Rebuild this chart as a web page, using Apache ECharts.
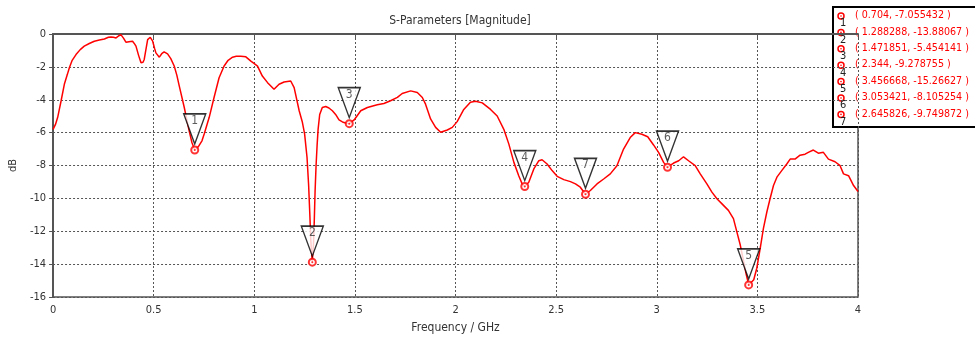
<!DOCTYPE html>
<html><head><meta charset="utf-8">
<script src="https://cdn.jsdelivr.net/npm/echarts@6/dist/echarts.min.js"></script>
<style>html,body{margin:0;padding:0;background:#fff}#c{width:975px;height:339px}</style>
</head><body><div id="c"></div>
<script>
const freq = [0.000,0.012,0.023,0.04,0.056,0.07,0.081,0.095,0.114,0.135,0.155,0.18,0.205,0.23,0.255,0.275,0.288,0.30,0.313,0.325,0.337,0.35,0.362,0.37,0.385,0.395,0.405,0.412,0.425,0.437,0.447,0.453,0.462,0.47,0.483,0.495,0.505,0.511,0.528,0.54,0.552,0.569,0.585,0.602,0.615,0.627,0.652,0.676,0.69,0.704,0.715,0.726,0.74,0.751,0.776,0.80,0.825,0.85,0.87,0.892,0.91,0.933,0.958,0.983,1.0,1.016,1.04,1.066,1.098,1.123,1.148,1.181,1.198,1.223,1.239,1.25,1.262,1.27,1.276,1.281,1.288,1.294,1.298,1.302,1.307,1.312,1.317,1.325,1.338,1.355,1.371,1.388,1.404,1.421,1.438,1.454,1.472,1.496,1.529,1.562,1.611,1.644,1.677,1.711,1.735,1.777,1.81,1.835,1.851,1.876,1.901,1.926,1.959,1.984,2.008,2.025,2.041,2.074,2.099,2.133,2.174,2.207,2.24,2.265,2.29,2.314,2.331,2.344,2.364,2.389,2.414,2.43,2.455,2.48,2.505,2.538,2.571,2.596,2.62,2.646,2.67,2.703,2.736,2.769,2.802,2.835,2.868,2.893,2.926,2.955,2.984,3.009,3.034,3.053,3.084,3.109,3.133,3.158,3.191,3.216,3.249,3.274,3.299,3.323,3.356,3.381,3.398,3.415,3.432,3.445,3.457,3.482,3.497,3.514,3.53,3.547,3.563,3.58,3.597,3.621,3.646,3.663,3.687,3.712,3.737,3.753,3.778,3.803,3.828,3.853,3.886,3.911,3.928,3.953,3.978,4.0];
const dB = [-5.8,-5.5,-5.07,-4.06,-3.06,-2.5,-2.05,-1.6,-1.25,-0.95,-0.74,-0.58,-0.44,-0.36,-0.30,-0.2,-0.18,-0.2,-0.24,-0.12,-0.04,-0.25,-0.5,-0.54,-0.45,-0.44,-0.6,-0.74,-1.3,-1.75,-1.72,-1.55,-0.9,-0.34,-0.2,-0.44,-0.9,-1.15,-1.41,-1.2,-1.09,-1.21,-1.5,-1.95,-2.5,-3.16,-4.47,-5.88,-6.6,-7.055,-6.95,-6.78,-6.5,-6.08,-5.07,-3.86,-2.66,-1.95,-1.6,-1.41,-1.36,-1.35,-1.39,-1.65,-1.8,-1.95,-2.56,-2.96,-3.36,-3.06,-2.92,-2.86,-3.26,-4.67,-5.37,-6.08,-7.5,-9.2,-11.0,-12.6,-13.88,-12.8,-11.4,-9.6,-8.0,-6.8,-5.8,-4.9,-4.47,-4.41,-4.5,-4.67,-4.89,-5.23,-5.35,-5.41,-5.454,-5.23,-4.67,-4.47,-4.31,-4.23,-4.06,-3.86,-3.62,-3.46,-3.56,-3.86,-4.27,-5.17,-5.68,-5.98,-5.84,-5.68,-5.33,-4.95,-4.59,-4.15,-4.09,-4.19,-4.59,-4.99,-5.8,-6.7,-7.81,-8.62,-9.12,-9.279,-9.02,-8.21,-7.71,-7.65,-7.91,-8.31,-8.66,-8.86,-8.98,-9.12,-9.32,-9.75,-9.52,-9.12,-8.82,-8.51,-8.01,-7.0,-6.3,-6.0,-6.1,-6.25,-6.75,-7.2,-7.81,-8.105,-7.85,-7.71,-7.47,-7.71,-8.01,-8.51,-9.12,-9.62,-10.02,-10.32,-10.73,-11.23,-12.04,-12.84,-13.85,-14.65,-15.266,-14.95,-14.25,-13.04,-11.83,-10.83,-10.02,-9.22,-8.71,-8.31,-7.91,-7.61,-7.61,-7.37,-7.31,-7.2,-7.06,-7.25,-7.2,-7.61,-7.77,-8.01,-8.51,-8.62,-9.22,-9.58];
const markerNames = ['1','2','3','4','5','6','7'];
const markerFreq = [0.704, 1.288288, 1.471851, 2.344, 3.456668, 3.053421, 2.645826];
const markerDB = [-7.055432, -13.88067, -5.454141, -9.278755, -15.26627, -8.105254, -9.749872];
const titleText = 'S-Parameters [Magnitude]';
const xName = 'Frequency / GHz';
const yName = 'dB';

const FONT = "Tahoma, 'DejaVu Sans Condensed', 'DejaVu Sans', sans-serif";
const chart = echarts.init(document.getElementById('c'), null, {renderer:'canvas'});
const lineData = freq.map((f,i)=>[f, dB[i]]);
const mData = markerFreq.map((f,i)=>({value:[f, markerDB[i]], name: markerNames[i]}));

const legendChildren = [{type:'rect', shape:{x:833,y:7,width:200,height:120}, style:{fill:'#fff', stroke:'#000', lineWidth:2}}];
markerNames.forEach((n,i)=>{
  const y = 16 + i*16.4;
  legendChildren.push({type:'circle', shape:{cx:841,cy:y,r:3}, style:{fill:'#fff', stroke:'#f00', lineWidth:1.5}});
  legendChildren.push({type:'circle', shape:{cx:841,cy:y,r:0.8}, style:{fill:'#f00'}});
  legendChildren.push({type:'text', x:840, y:y+2, style:{text:n, fill:'#222', font:'11px '+FONT}});
  legendChildren.push({type:'text', x:855, y:y-6, style:{text:'( '+markerFreq[i]+', '+markerDB[i]+' )', fill:'#f00', font:'10.6px '+FONT}});
});

chart.setOption({
  animation:false,
  backgroundColor:'#fff',
  title:{text:titleText, left:455, top:10, textAlign:'center', textStyle:{fontFamily:FONT, fontSize:12, fontWeight:'normal', color:'#333'}},
  grid:{left:52, right:117, top:34, bottom:40, show:true, borderColor:'#555', borderWidth:1.5},
  xAxis:{type:'value', min:0, max:4, interval:0.5, name:xName, nameLocation:'middle', nameGap:25,
    nameTextStyle:{fontFamily:FONT, fontSize:12, color:'#333'},
    axisLine:{show:true, lineStyle:{color:'#555', width:2}},
    axisTick:{show:true, length:4, lineStyle:{color:'#555'}},
    axisLabel:{color:'#333', fontFamily:FONT, fontSize:11, margin:8},
    splitLine:{show:true, lineStyle:{color:'#555', type:[2,2], width:1}}},
  yAxis:{type:'value', min:-16, max:0, interval:2, name:yName, nameLocation:'middle', nameGap:30, nameRotate:90,
    nameTextStyle:{fontFamily:FONT, fontSize:11, color:'#333'},
    axisLine:{show:true, lineStyle:{color:'#555', width:2}},
    axisTick:{show:true, length:4, lineStyle:{color:'#555'}},
    axisLabel:{color:'#333', fontFamily:FONT, fontSize:11, margin:7},
    splitLine:{show:true, lineStyle:{color:'#555', type:[2,2], width:1}}},
  series:[
    {type:'line', data:lineData, showSymbol:false, lineStyle:{color:'#ff0000', width:1.5}, itemStyle:{color:'#f00'}, z:2},
    {type:'scatter', data:mData, symbol:'emptyCircle', symbolSize:7, itemStyle:{color:'#f00', borderWidth:1.5}, z:3},
    {type:'scatter', data:mData, symbol:'circle', symbolSize:2, itemStyle:{color:'#f00'}, z:4},
    {type:'scatter', data:mData, symbol:'path://M0,0L22,0L11,30Z', symbolSize:[22,30], symbolOffset:[0,-21],
      itemStyle:{color:'#fff', borderColor:'#000', borderWidth:1.5}, z:5,
      label:{show:true, position:'inside', offset:[0,-8], formatter:p=>p.name, color:'#333', fontFamily:FONT, fontSize:12}}
  ],
  graphic:[{type:'group', children:legendChildren, z:100}]
});
</script></body></html>
